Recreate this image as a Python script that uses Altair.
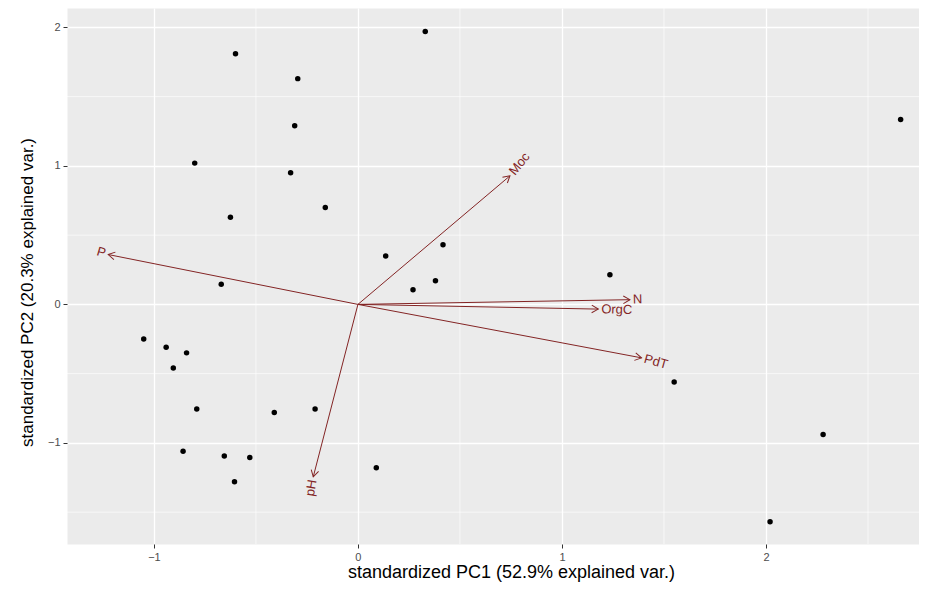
import math
import altair as alt
import pandas as pd

# --- observations (standardized PC scores) ---
pc1 = [-0.60, -0.295, -0.31, -0.80, -0.33, -0.16, -0.625, -0.67, 0.33, 0.136,
       0.417, 0.38, 0.27, 1.235, -1.05, -0.94, -0.84, -0.905, -0.79, -0.41,
       -0.21, -0.857, -0.655, -0.53, -0.605, 1.55, 2.28, 2.02, 2.66, 0.09]
pc2 = [1.81, 1.63, 1.29, 1.02, 0.95, 0.70, 0.63, 0.145, 1.97, 0.35,
       0.43, 0.17, 0.105, 0.214, -0.25, -0.31, -0.35, -0.46, -0.755, -0.78,
       -0.755, -1.06, -1.095, -1.105, -1.28, -0.56, -0.94, -1.57, 1.335, -1.18]

# --- variable loadings (arrows) ---
var_names = ["Moc", "N", "OrgC", "PdT", "pH", "P"]
load_x = [0.745, 1.333, 1.178, 1.39, -0.219, -1.224]
load_y = [0.928, 0.034, -0.034, -0.386, -1.245, 0.36]

# --- axes ---
x_domain = [-1.426, 2.75]
y_domain = [-1.73, 2.14]
major_ticks = [-1, 0, 1, 2]
x_minor = [-0.5, 0.5, 1.5, 2.5]
y_minor = [-1.5, -0.5, 0.5, 1.5]
x_title = "standardized PC1 (52.9% explained var.)"
y_title = "standardized PC2 (20.3% explained var.)"

W, H = 852, 536
ARROW_COLOR = "#832424"
FONT = "Liberation Sans"

sx = W / (x_domain[1] - x_domain[0])
sy = H / (y_domain[1] - y_domain[0])

pts = pd.DataFrame({"pc1": pc1, "pc2": pc2})
ld = pd.DataFrame({"name": var_names, "lx": load_x, "ly": load_y})
ld["x0"] = 0.0
ld["y0"] = 0.0
ld["head_angle"] = [math.degrees(math.atan2(-y * sy, x * sx)) % 360 for x, y in zip(load_x, load_y)]
ld["text_angle"] = [(-math.degrees(math.atan(y / x))) % 360 for x, y in zip(load_x, load_y)]

xs = alt.Scale(domain=x_domain, nice=False, zero=False)
ys = alt.Scale(domain=y_domain, nice=False, zero=False)

x_axis = alt.Axis(values=major_ticks, title=x_title, grid=True, gridColor="white",
                  gridWidth=1.3, domain=False, tickColor="#333333", tickSize=4,
                  tickWidth=1, labelColor="#4D4D4D", labelFontSize=11, labelFont=FONT,
                  labelPadding=3, titleFont=FONT, titleFontSize=18, titleFontWeight="normal",
                  titleColor="black", titleX=444, titleY=19, titleBaseline="top",
                  titleAlign="center")
y_axis = alt.Axis(values=major_ticks, title=y_title, grid=True, gridColor="white",
                  gridWidth=1.3, domain=False, tickColor="#333333", tickSize=4,
                  tickWidth=1, labelColor="#4D4D4D", labelFontSize=11, labelFont=FONT,
                  labelPadding=3, titleFont=FONT, titleFontSize=17, titleFontWeight="normal",
                  titleColor="black", titleX=-40, titleY=284, titleBaseline="middle",
                  titleAlign="center", titleAngle=270)


def X(field):
    return alt.X(field, scale=xs, axis=x_axis, title=x_title)


def Y(field):
    return alt.Y(field, scale=ys, axis=y_axis, title=y_title)


points = alt.Chart(pts).mark_circle(color="black", size=30, opacity=1).encode(
    x=X("pc1:Q"), y=Y("pc2:Q"),
)

minor_x = alt.Chart(pd.DataFrame({"v": x_minor})).mark_rule(
    color="white", strokeWidth=0.65).encode(x=X("v:Q"))
minor_y = alt.Chart(pd.DataFrame({"v": y_minor})).mark_rule(
    color="white", strokeWidth=0.65).encode(y=Y("v:Q"))

shafts = alt.Chart(ld).mark_rule(color=ARROW_COLOR, strokeWidth=1).encode(
    x=X("x0:Q"), y=Y("y0:Q"), x2="lx:Q", y2="ly:Q",
)

heads = alt.Chart(ld).mark_point(
    shape="M -0.866 -0.5 L 0 0 L -0.866 0.5", filled=False, stroke=ARROW_COLOR,
    strokeWidth=1, size=230, opacity=1,
).encode(
    x=X("lx:Q"), y=Y("ly:Q"),
    angle=alt.Angle("head_angle:Q", scale=None),
)

labels_pos = alt.Chart(ld).transform_filter("datum.lx > 0").mark_text(
    align="left", baseline="middle", dx=3, color=ARROW_COLOR, font=FONT, fontSize=13,
).encode(
    x=X("lx:Q"), y=Y("ly:Q"),
    text="name:N", angle=alt.Angle("text_angle:Q", scale=None),
)
labels_neg = alt.Chart(ld).transform_filter("datum.lx < 0").mark_text(
    align="right", baseline="middle", dx=-3, color=ARROW_COLOR, font=FONT, fontSize=13,
).encode(
    x=X("lx:Q"), y=Y("ly:Q"),
    text="name:N", angle=alt.Angle("text_angle:Q", scale=None),
)

chart = alt.layer(points, minor_x, minor_y, shafts, heads, labels_pos, labels_neg).properties(
    width=W, height=H,
    padding={"left": 59, "top": 0, "right": 0, "bottom": 38},
    autosize=alt.AutoSizeParams(type="none"),
    background="white",
).configure_view(fill="#EBEBEB", stroke="transparent")

chart.save("out.html", embed_options={"renderer": "svg", "actions": False})
